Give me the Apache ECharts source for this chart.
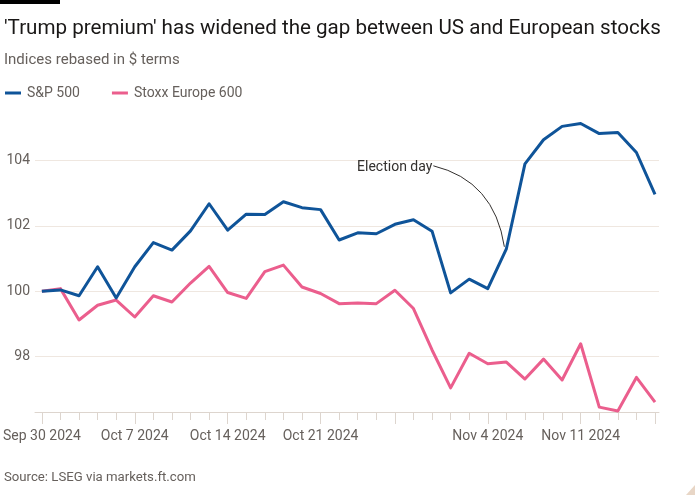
<!DOCTYPE html>
<html>
<head>
<meta charset="utf-8">
<script src="https://cdn.jsdelivr.net/npm/echarts@6/dist/echarts.min.js"></script>
<style>
html,body{margin:0;padding:0;background:#fff;}
#chart{width:700px;height:500px;}
</style>
</head>
<body>
<div id="chart"></div>
<script>
const dates = ['Sep 30 2024','Oct 1 2024','Oct 2 2024','Oct 3 2024','Oct 4 2024',
  'Oct 7 2024','Oct 8 2024','Oct 9 2024','Oct 10 2024','Oct 11 2024',
  'Oct 14 2024','Oct 15 2024','Oct 16 2024','Oct 17 2024','Oct 18 2024',
  'Oct 21 2024','Oct 22 2024','Oct 23 2024','Oct 24 2024',
  'Oct 28 2024','Oct 29 2024','Oct 30 2024','Oct 31 2024','Nov 1 2024',
  'Nov 4 2024','Nov 5 2024','Nov 6 2024','Nov 7 2024','Nov 8 2024',
  'Nov 11 2024','Nov 12 2024','Nov 13 2024','Nov 14 2024','Nov 15 2024'];
const labelledDates = ['Sep 30 2024','Oct 7 2024','Oct 14 2024','Oct 21 2024','Nov 4 2024','Nov 11 2024'];
const longTickDates = ['Sep 30 2024','Oct 7 2024','Oct 14 2024','Oct 21 2024','Oct 28 2024','Nov 4 2024','Nov 11 2024','Nov 15 2024'];
const spx = [100, 100.04, 99.86, 100.75, 99.79, 100.75, 101.49, 101.26, 101.85, 102.68,
  101.87, 102.36, 102.35, 102.74, 102.56, 102.5, 101.57, 101.79, 101.76, 102.05,
  102.19, 101.84, 99.95, 100.37, 100.08, 101.3, 103.9, 104.64, 105.05, 105.14,
  104.83, 104.86, 104.25, 102.97];
const stoxx = [100, 100.08, 99.12, 99.57, 99.73, 99.21, 99.86, 99.67, 100.25, 100.76,
  99.96, 99.78, 100.6, 100.8, 100.13, 99.93, 99.62, 99.64, 99.62, 100.03,
  99.47, 98.2, 97.04, 98.1, 97.78, 97.83, 97.31, 97.92, 97.28, 98.39,
  96.45, 96.33, 97.36, 96.6];
const yTicks = [98, 100, 102, 104];
const annotationDate = 'Nov 5 2024';
const annotationText = 'Election day';

const FONT = 'Roboto';
const GREY = '#66605c';
const chart = echarts.init(document.getElementById('chart'));
const yMin = 96.3, yMax = 105.5;

chart.setOption({
  animation: false,
  backgroundColor: '#ffffff',
  textStyle: {fontFamily: FONT},
  title: [
    {text: "'Trump premium' has widened the gap between US and European stocks", left: -1, top: 13,
      textStyle: {fontFamily: FONT, fontSize: 20.6, fontWeight: 'normal', color: '#1a1817'}},
    {text: 'Indices rebased in $ terms', left: -1, top: 48,
      textStyle: {fontFamily: FONT, fontSize: 15, fontWeight: 'normal', color: GREY}},
    {text: 'Source: LSEG via markets.ft.com', left: -1, top: 466,
      textStyle: {fontFamily: FONT, fontSize: 13.2, fontWeight: 'normal', color: GREY}}
  ],
  legend: {
    left: 0, top: 81, itemWidth: 16, itemHeight: 3, itemGap: 32, icon: 'rect',
    textStyle: {fontFamily: FONT, fontSize: 14, color: GREY, padding: [0, 0, 0, 1]},
    data: ['S&P 500', 'Stoxx Europe 600']
  },
  grid: [
    {left: 39, right: 45, top: 111.7, bottom: 88},
    {left: 35, right: 41, top: 111.7, bottom: 88}
  ],
  xAxis: [
    {type: 'category', gridIndex: 0, data: dates, boundaryGap: false,
      axisLine: {show: false},
      axisTick: {show: true, length: 8, interval: 0, lineStyle: {color: '#ddd5ce'}},
      axisLabel: {interval: (i, v) => labelledDates.includes(v), margin: 17, fontFamily: FONT, fontSize: 14, color: GREY},
      splitLine: {show: false}},
    {type: 'category', gridIndex: 0, data: dates, boundaryGap: false, position: 'bottom',
      axisLine: {show: false},
      axisTick: {show: true, length: 12, interval: (i, v) => longTickDates.includes(v), lineStyle: {color: '#ddd5ce'}},
      axisLabel: {show: false}, splitLine: {show: false}},
    {type: 'value', gridIndex: 1, min: 0, max: 1,
      axisLine: {show: true, lineStyle: {color: '#ddd5ce', width: 1}},
      axisTick: {show: false}, axisLabel: {show: false}, splitLine: {show: false}}
  ],
  yAxis: [
    {type: 'value', gridIndex: 0, min: yMin, max: yMax, show: false},
    {type: 'value', gridIndex: 1, min: yMin, max: yMax,
      axisLine: {show: false},
      axisTick: {show: false, customValues: yTicks},
      axisLabel: {customValues: yTicks, margin: 5, fontFamily: FONT, fontSize: 14, color: GREY},
      splitLine: {show: true, lineStyle: {color: '#efe7e0', width: 1}}}
  ],
  series: [
    {name: 'S&P 500', type: 'line', xAxisIndex: 0, yAxisIndex: 0, data: spx, symbol: 'none',
      lineStyle: {color: '#0f5499', width: 3, join: 'round'}, itemStyle: {color: '#0f5499'}, z: 3},
    {name: 'Stoxx Europe 600', type: 'line', xAxisIndex: 0, yAxisIndex: 0, data: stoxx, symbol: 'none',
      lineStyle: {color: '#eb5e8d', width: 3, join: 'round'}, itemStyle: {color: '#eb5e8d'}, z: 2}
  ]
});

const ai = dates.indexOf(annotationDate);
const p = chart.convertToPixel({xAxisIndex: 0, yAxisIndex: 0}, [ai, spx[ai]]);
const ex = p[0] - 2, ey = p[1] - 2;
chart.setOption({
  graphic: [
    {type: 'rect', left: 0, top: 0, shape: {width: 60, height: 4}, style: {fill: '#000'}},
    {type: 'polygon', shape: {points: [[686, 495], [695, 485], [695, 495]]}, style: {fill: '#e8d6c6'}},
    {type: 'bezierCurve', shape: {x1: ex - 71, y1: ey - 81, cpx1: ex - 10, cpy1: ey - 66, x2: ex, y2: ey},
      style: {stroke: '#33302e', lineWidth: 1, fill: null}, z: 10},
    {type: 'text', x: ex - 72, y: ey - 79, style: {text: annotationText, align: 'right', verticalAlign: 'middle',
      font: '14px ' + FONT, fill: '#33302e'}, z: 10}
  ]
});
</script>
</body>
</html>
